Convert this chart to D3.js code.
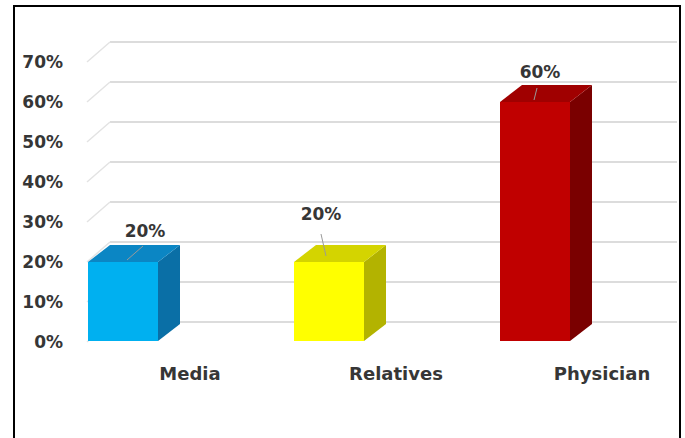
<!DOCTYPE html>
<html>
<head>
<meta charset="utf-8">
<script src="https://cdn.jsdelivr.net/npm/d3@7"></script>
<style>
  html, body { margin: 0; padding: 0; background: #fff; }
  svg { display: block; }
</style>
</head>
<body>
<div id="vis"></div>
<script>
// ── DATA ───────────────────────────────────────────────────────────────────────
const categories = ["Media", "Relatives", "Physician"];
const values     = [0.20, 0.20, 0.60];
const tickValues = [0, 0.1, 0.2, 0.3, 0.4, 0.5, 0.6, 0.7];

// ── CONFIG ─────────────────────────────────────────────────────────────────────
const width   = 685;
const height  = 438;
const depthX  = 23;    // 3d depth offset of back wall
const depthY  = -20;
const barDX   = 22;    // bar depth
const barDY   = -17;
const barW    = 70;
const textCol = "#363636";
const font    = "DejaVu Sans, sans-serif";

const palette = {
  Media:     { front: "#00b0f0", top: "#0b86c4", side: "#0a6fa6" },
  Relatives: { front: "#ffff00", top: "#d4d400", side: "#b3b300" },
  Physician: { front: "#c00000", top: "#a00000", side: "#7a0000" }
};
// where each data label sits relative to bar centre (layout only)
const labelShift = {
  Media:     { x: 22,  y: -25, lx0: 4,  ly0: -2,  lx1: 20, ly1: -16 },
  Relatives: { x: -8,  y: -42, lx0: -8, ly0: -28, lx1: -3, ly1: -6 },
  Physician: { x: 5,   y: -24, lx0: 2,  ly0: -14, lx1: -1, ly1: -2 }
};

const svg = d3.select("#vis").append("svg")
  .attr("width", width)
  .attr("height", height);

// ── SCALES ─────────────────────────────────────────────────────────────────────
const y = d3.scaleLinear([0, 0.7], [342, 62]);
const x = d3.scalePoint(categories, [123, 535]);

// ── GRID (back wall + side diagonals) ─────────────────────────────────────────
const grid = svg.append("g");
grid.selectAll("line.back")
  .data(tickValues)
  .join("line")
  .attr("class", "back")
  .attr("x1", 87 + depthX).attr("x2", 677)
  .attr("y1", d => y(d) + depthY).attr("y2", d => y(d) + depthY)
  .attr("stroke", "#dcdcdc")
  .attr("stroke-width", 2);
grid.selectAll("line.diag")
  .data(tickValues)
  .join("line")
  .attr("class", "diag")
  .attr("x1", 87).attr("x2", 87 + depthX)
  .attr("y1", d => y(d)).attr("y2", d => y(d) + depthY)
  .attr("stroke", "#e3e3e3")
  .attr("stroke-width", 1.5);

// ── Y AXIS LABELS ─────────────────────────────────────────────────────────────
svg.append("g")
  .selectAll("text")
  .data(tickValues)
  .join("text")
  .attr("x", 63)
  .attr("y", d => y(d))
  .attr("dy", "0.36em")
  .attr("text-anchor", "end")
  .style("font", `bold 17px ${font}`)
  .attr("fill", textCol)
  .text(d3.format(".0%"));

// ── BARS ──────────────────────────────────────────────────────────────────────
const data = categories.map((c, i) => ({ name: c, value: values[i] }));

const bar = svg.append("g")
  .selectAll("g")
  .data(data)
  .join("g");

bar.append("path") // side
  .attr("fill", d => palette[d.name].side)
  .attr("d", d => {
    const x1 = x(d.name) + barW / 2, y0 = y(0) - 1, y1 = y(d.value);
    return `M${x1},${y1}L${x1 + barDX},${y1 + barDY}L${x1 + barDX},${y0 + barDY}L${x1},${y0}Z`;
  });
bar.append("path") // top
  .attr("fill", d => palette[d.name].top)
  .attr("d", d => {
    const x0 = x(d.name) - barW / 2, x1 = x(d.name) + barW / 2, y1 = y(d.value);
    return `M${x0},${y1}L${x0 + barDX},${y1 + barDY}L${x1 + barDX},${y1 + barDY}L${x1},${y1}Z`;
  });
bar.append("rect") // front
  .attr("x", d => x(d.name) - barW / 2)
  .attr("y", d => y(d.value))
  .attr("width", barW)
  .attr("height", d => y(0) - 1 - y(d.value))
  .attr("fill", d => palette[d.name].front);

// leader lines + value labels
bar.append("line")
  .attr("x1", d => x(d.name) + labelShift[d.name].lx0)
  .attr("y1", d => y(d.value) + labelShift[d.name].ly0)
  .attr("x2", d => x(d.name) + labelShift[d.name].lx1)
  .attr("y2", d => y(d.value) + labelShift[d.name].ly1)
  .attr("stroke", "#9a9a9a")
  .attr("stroke-width", 1);
bar.append("text")
  .attr("x", d => x(d.name) + labelShift[d.name].x)
  .attr("y", d => y(d.value) + labelShift[d.name].y)
  .attr("text-anchor", "middle")
  .style("font", `bold 17px ${font}`)
  .attr("fill", textCol)
  .text(d => d3.format(".0%")(d.value));

// ── CATEGORY LABELS ───────────────────────────────────────────────────────────
svg.append("g")
  .selectAll("text")
  .data(categories)
  .join("text")
  .attr("x", d => x(d) + 67)
  .attr("y", 380)
  .attr("text-anchor", "middle")
  .style("font", `bold 18px ${font}`)
  .attr("fill", textCol)
  .text(d => d);

// ── FRAME ─────────────────────────────────────────────────────────────────────
svg.append("rect")
  .attr("x", 14).attr("y", 6)
  .attr("width", 666).attr("height", 436)
  .attr("fill", "none")
  .attr("stroke", "#000")
  .attr("stroke-width", 2);
</script>
</body>
</html>
